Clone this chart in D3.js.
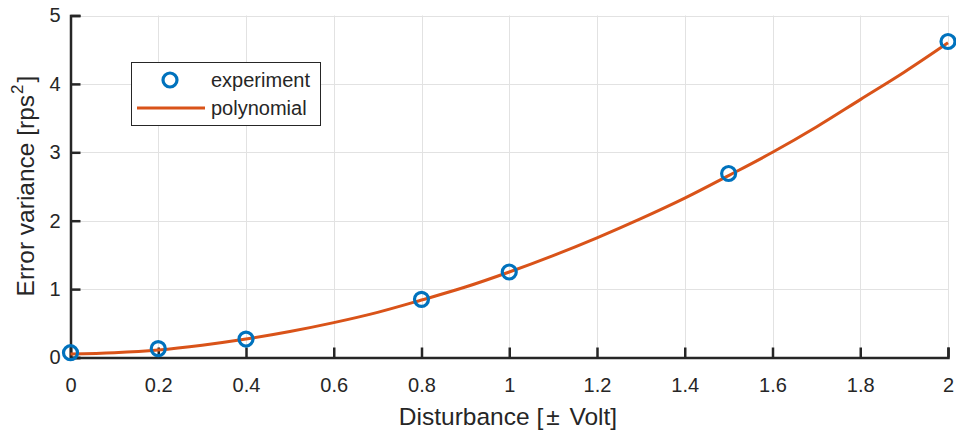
<!DOCTYPE html>
<html>
<head>
<meta charset="utf-8">
<script src="https://cdn.jsdelivr.net/npm/d3@7"></script>
<style>
  body { margin: 0; background: #fff; }
  text { font-family: "Liberation Sans", Arial, sans-serif; fill: #262626; }
</style>
</head>
<body>
<div id="chart"></div>
<script>
// measured points
var expX = [0, 0.2, 0.4, 0.8, 1, 1.5, 2];
var expY = [0.07, 0.13, 0.27, 0.85, 1.25, 2.69, 4.62];

// fitted curve
var polyX = [0, 0.1, 0.2, 0.3, 0.4, 0.5, 0.6, 0.7, 0.8, 0.9, 1.0, 1.1, 1.2, 1.3, 1.4, 1.5, 1.6, 1.7, 1.8, 1.9, 2.0];
var polyY = [0.05, 0.07, 0.11, 0.18, 0.27, 0.38, 0.51, 0.66, 0.84, 1.03, 1.25, 1.49, 1.75, 2.03, 2.33, 2.66, 3.0, 3.37, 3.77, 4.17, 4.6];

var xTicks = [0, 0.2, 0.4, 0.6, 0.8, 1, 1.2, 1.4, 1.6, 1.8, 2];
var yTicks = [0, 1, 2, 3, 4, 5];
var legendNames = ['experiment', 'polynomial'];

var width = 956, height = 433;
var margin = {left: 70.5, right: 8, top: 15.5, bottom: 75.5};

var svg = d3.select('#chart')
  .append('svg')
  .attr('width', width)
  .attr('height', height);

var x = d3.scaleLinear().domain([0, 2]).range([margin.left, width - margin.right]);
var y = d3.scaleLinear().domain([0, 5]).range([height - margin.bottom, margin.top]);

// grid
svg.append('g').selectAll('line')
  .data(xTicks)
  .enter()
  .append('line')
  .attr('x1', d => Math.round(x(d)) + 0.5).attr('x2', d => Math.round(x(d)) + 0.5)
  .attr('y1', y(0)).attr('y2', y(5))
  .attr('stroke', '#e2e2e2').attr('stroke-width', 1);

svg.append('g').selectAll('line')
  .data(yTicks)
  .enter()
  .append('line')
  .attr('y1', d => Math.round(y(d)) + 0.5).attr('y2', d => Math.round(y(d)) + 0.5)
  .attr('x1', x(0)).attr('x2', x(2))
  .attr('stroke', '#e2e2e2').attr('stroke-width', 1);

// axes, ticks pointing inward
var xAxis = svg.append('g')
  .attr('transform', 'translate(0,' + y(0) + ')')
  .call(d3.axisBottom(x).tickValues(xTicks).tickSize(-10).tickPadding(20).tickFormat(d3.format('')));
var yAxis = svg.append('g')
  .attr('transform', 'translate(' + x(0) + ',0)')
  .call(d3.axisLeft(y).tickValues(yTicks).tickSize(-10).tickPadding(10).tickFormat(d3.format('d')));

[xAxis, yAxis].forEach(function (g) {
  g.select('.domain').attr('stroke', '#262626').attr('stroke-width', 2.5);
  g.selectAll('.tick line').attr('stroke', '#262626').attr('stroke-width', 2.5);
  g.selectAll('.tick text').attr('font-size', 20).attr('fill', '#262626')
    .style('font-family', '"Liberation Sans", Arial, sans-serif');
});

// curve
var line = d3.line()
  .x(function (d, i) { return x(polyX[i]); })
  .y(function (d) { return y(d); })
  .curve(d3.curveMonotoneX);

svg.append('path')
  .datum(polyY)
  .attr('d', line)
  .attr('fill', 'none')
  .attr('stroke', '#D95319')
  .attr('stroke-width', 3);

// points
svg.append('g').selectAll('circle')
  .data(expY)
  .enter()
  .append('circle')
  .attr('cx', function (d, i) { return x(expX[i]); })
  .attr('cy', function (d) { return y(d); })
  .attr('r', 7)
  .attr('fill', 'none')
  .attr('stroke', '#0072BD')
  .attr('stroke-width', 3.2);

// axis labels
var xl = svg.append('text')
  .attr('x', 508)
  .attr('y', 425)
  .attr('text-anchor', 'middle')
  .attr('font-size', 24.5);
xl.append('tspan').text('Disturbance [');
xl.append('tspan').attr('dx', 3).text('±');
xl.append('tspan').attr('dx', 3).text(' Volt]');

var yl = svg.append('text')
  .attr('transform', 'translate(34,' + 186 + ') rotate(-90)')
  .attr('text-anchor', 'middle')
  .attr('font-size', 24.5);
yl.append('tspan').text('Error variance [rps');
yl.append('tspan').attr('font-size', 17).attr('dx', 1).attr('dy', -11).text('2');
yl.append('tspan').attr('dx', 2).attr('dy', 11).text(']');

// legend
var lg = svg.append('g');
lg.append('rect')
  .attr('x', 131.5).attr('y', 62.5)
  .attr('width', 189).attr('height', 63)
  .attr('fill', '#fff').attr('stroke', '#262626').attr('stroke-width', 1);
lg.append('circle')
  .attr('cx', 170).attr('cy', 80).attr('r', 7)
  .attr('fill', 'none').attr('stroke', '#0072BD').attr('stroke-width', 3.2);
lg.append('line')
  .attr('x1', 137).attr('x2', 205).attr('y1', 108).attr('y2', 108)
  .attr('stroke', '#D95319').attr('stroke-width', 3);
lg.selectAll('text')
  .data(legendNames)
  .enter()
  .append('text')
  .attr('x', 211)
  .attr('y', function (d, i) { return 87 + i * 28; })
  .attr('font-size', 20)
  .attr('fill', '#000')
  .text(function (d) { return d; });
</script>
</body>
</html>
